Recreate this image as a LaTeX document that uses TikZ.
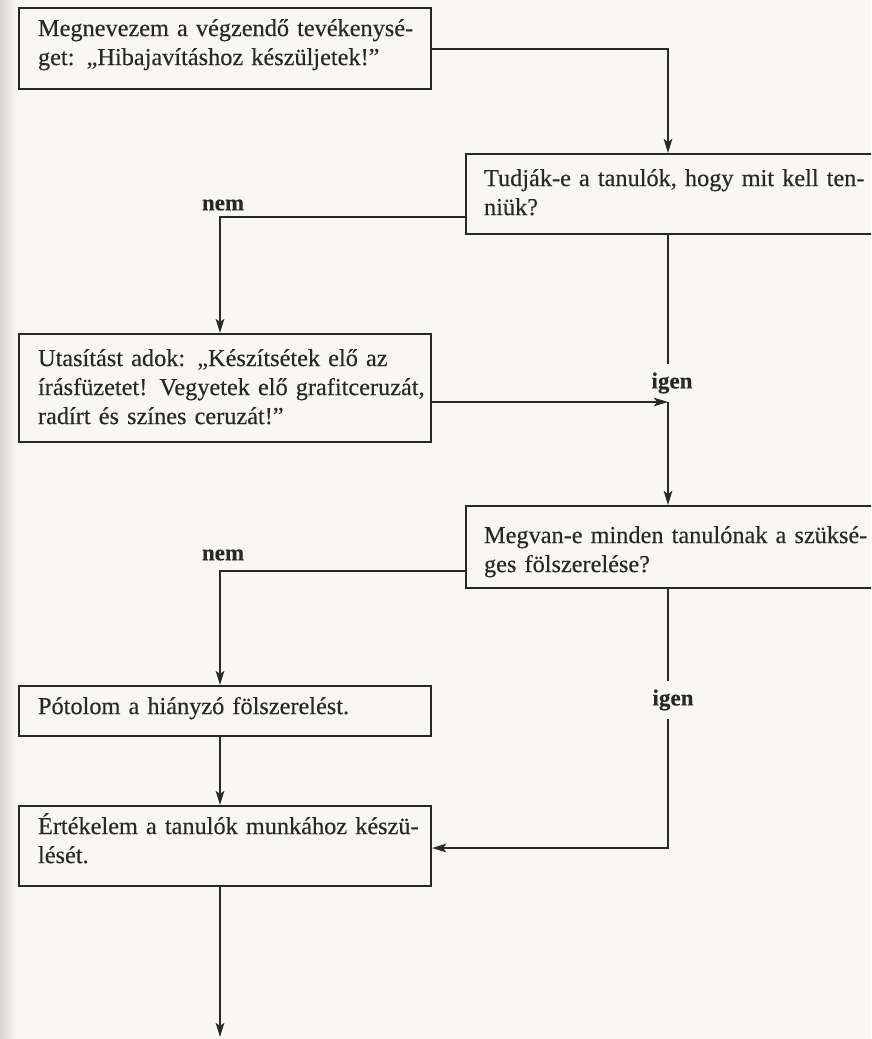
\documentclass[tikz,border=0pt]{standalone}
\usepackage{fontspec}
\setmainfont{Liberation Serif}[FakeBold=0.35]
\usetikzlibrary{arrows.meta}
\definecolor{paper}{RGB}{248,247,241}
\definecolor{edge}{RGB}{214,214,206}
\definecolor{ink}{RGB}{40,40,38}
% a line of justified text, stretched to the given width
\newcommand\jline[2]{\makebox[#1][s]{#2}}

\begin{document}
\begin{tikzpicture}[x=1pt,y=-1pt,
  flow/.style={draw=ink, line width=2.1pt},
  arr/.style={flow, -{Stealth[length=14pt,width=8.5pt,inset=3pt]}},
  box/.style={draw=ink, line width=2.1pt, anchor=north west, align=left,
    inner ysep=0pt, text=ink, font=\fontsize{24.3}{29}\selectfont, text height=18pt},
  leftbox/.style={box, inner xsep=19pt, text width=374pt, minimum width=412pt},
  rightbox/.style={box, inner xsep=18pt, text width=377pt, minimum width=413pt},
  lbl/.style={text=ink, font=\fontsize{23}{27}\selectfont\bfseries,
    inner xsep=2pt, inner ysep=8pt}
]
% paper
\fill[paper] (0,0) rectangle (871,1039);
\shade[left color=edge, right color=paper] (0,0) rectangle (16,1039);
\useasboundingbox (0,0) rectangle (871,1039);
\clip (0,0) rectangle (871,1039);

% steps and questions
\node[leftbox, minimum height=81pt, text depth=43pt] (b1) at (18,7)
  {\jline{374pt}{Megnevezem a végzendő tevékenysé-}\\get: „Hibajavításhoz készüljetek!”};
\node[rightbox, minimum height=80pt, text depth=34pt] (b2) at (465,153)
  {\jline{377pt}{Tudják-e a tanulók, hogy mit kell ten-}\\niük?};
\node[leftbox, minimum height=108pt, text depth=62pt] (b3) at (18,333)
  {\jline{374pt}{Utasítást adok: „Készítsétek elő az}\\\jline{374pt}{írásfüzetet! Vegyetek elő grafitceruzát,}\\radírt és színes ceruzát!”};
\node[rightbox, minimum height=82pt, text depth=26pt] (b4) at (465,505)
  {\jline{377pt}{Megvan-e minden tanulónak a szüksé-}\\ges fölszerelése?};
\node[leftbox, minimum height=50pt, text depth=12pt] (b5) at (18,685)
  {Pótolom a hiányzó fölszerelést.};
\node[leftbox, minimum height=80pt, text depth=42pt] (b6) at (18,805)
  {\jline{374pt}{Értékelem a tanulók munkához készü-}\\lését.};

% routing points
\coordinate (vx) at (668,0);
\coordinate (n1) at (220,217);
\coordinate (j1) at (668,402);
\coordinate (n2) at (220,571);
\coordinate (j2) at (668,848);
\coordinate (out) at (220,1037);

% branch labels
\node[lbl] (nem1) at (223,205) {nem};
\node[lbl] (igen1) at (672,383) {igen};
\node[lbl] (nem2) at (223,555) {nem};
\node[lbl] (igen2) at (673,700) {igen};

% connectors
\draw[arr] (b1.east) -| (b2.north -| vx);
\draw[arr] (b2.west |- n1) -- (n1) -- (b3.north -| n1);
\draw[flow] (b2.south -| vx) -- (igen1.north -| vx);
\draw[arr] (b3.east |- j1) -- (j1);
\draw[arr] (j1) -- (b4.north -| vx);
\draw[arr] (b4.west |- n2) -- (n2) -- (b5.north -| n2);
\draw[arr] (b5.south -| n1) -- (b6.north -| n1);
\draw[flow] (b4.south -| vx) -- (igen2.north -| vx);
\draw[arr] (igen2.south -| vx) -- (j2) -- (b6.east |- j2);
\draw[arr] (b6.south -| n1) -- (out);
\end{tikzpicture}
\end{document}
